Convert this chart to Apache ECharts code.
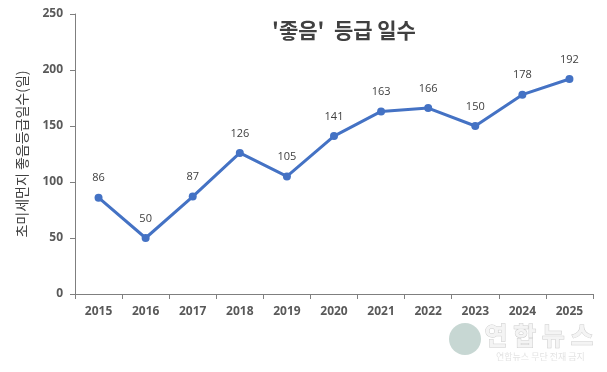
<!DOCTYPE html>
<html><head><meta charset="utf-8">
<script src="https://cdn.jsdelivr.net/npm/echarts@6/dist/echarts.min.js"></script>
<style>html,body{margin:0;padding:0;background:#fff}#c{width:607px;height:372px}</style>
</head><body><div id="c"></div>
<script>
const years = ['2015','2016','2017','2018','2019','2020','2021','2022','2023','2024','2025'];
const goodDays = [86,50,87,126,105,141,163,166,150,178,192];
const yTicks = [0,50,100,150,200,250];

const chart = echarts.init(document.getElementById('c'), null, {renderer:'canvas'});
chart.setOption({
  animation:false,
  backgroundColor:'#ffffff',
  title:{
    text:"'좋음'  등급 일수",
    left:339, top:15, textAlign:'center',
    textStyle:{fontFamily:'Noto Sans CJK KR', fontSize:21, fontWeight:'bold', color:'#404040'}
  },
  grid:{left:75, right:14, top:14, bottom:78, containLabel:false},
  xAxis:{
    type:'category', data:years, boundaryGap:true,
    axisLine:{lineStyle:{color:'#7f7f7f', width:1}},
    axisTick:{show:true, length:5, inside:false, lineStyle:{color:'#7f7f7f'}},
    axisLabel:{margin:12, fontFamily:'Open Sans', fontWeight:'bold', fontSize:12, color:'#595959'}
  },
  yAxis:{
    type:'value', min:yTicks[0], max:yTicks[yTicks.length-1], interval:50,
    name:'초미세먼지 좋음등급일수(일)', nameLocation:'middle', nameGap:46, nameRotate:90,
    nameTextStyle:{fontFamily:'Noto Sans CJK KR', fontSize:14, color:'#404040'},
    axisLine:{show:true, lineStyle:{color:'#7f7f7f', width:1}},
    axisTick:{show:true, length:5, lineStyle:{color:'#7f7f7f'}},
    splitLine:{show:false},
    axisLabel:{margin:12, fontFamily:'Open Sans', fontWeight:'bold', fontSize:12, color:'#595959'}
  },
  series:[{
    type:'line', data:goodDays,
    symbol:'circle', symbolSize:8,
    lineStyle:{color:'#4472C4', width:3},
    itemStyle:{color:'#4472C4'},
    label:{show:true, position:'top', distance:10, fontFamily:'Open Sans', fontSize:11, color:'#404040'}
  }],
  graphic:[
    {type:'circle', shape:{cx:465, cy:339, r:16}, style:{fill:'#8fb0a8', opacity:0.5}},
    {type:'text', left:484, top:322, style:{text:'연 합 뉴 스', font:'bold 25px "Noto Sans CJK KR"', fill:'#f4f4f4', stroke:'#cccccc', lineWidth:1}},
    {type:'text', left:496, top:352, style:{text:'연합뉴스 무단 전재 금지', font:'9px "Noto Sans CJK KR"', fill:'#e4e4e4'}}
  ]
});
</script></body></html>
